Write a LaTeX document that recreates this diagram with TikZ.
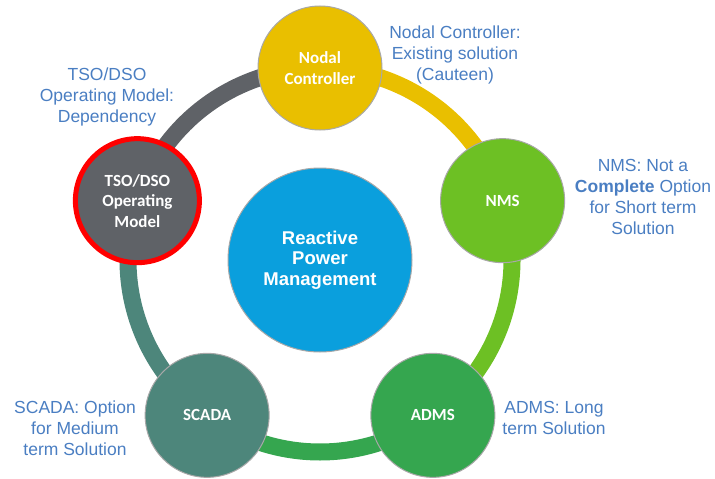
\documentclass[tikz,border=0pt]{standalone}
\usepackage{fontspec}
\usetikzlibrary{calc}
\setmainfont{Liberation Sans}
\newfontfamily\calibfont{Carlito}
\definecolor{cYellow}{HTML}{E9BF00}
\definecolor{cLime}{HTML}{6DC024}
\definecolor{cGreen}{HTML}{35A64F}
\definecolor{cTeal}{HTML}{4D867B}
\definecolor{cGray}{HTML}{5F6267}
\definecolor{cBlue}{HTML}{0A9FDD}
\definecolor{cText}{HTML}{4A7EC2}
\definecolor{cEdge}{HTML}{A8A8A8}
\tikzset{
  ring/.style={line width=17pt},
  stage/.style={circle, minimum size=124pt, inner sep=0pt, draw=cEdge, line width=1pt,
    text=white, align=center, font=\calibfont\bfseries\fontsize{17}{20.5}\selectfont},
  hub/.style={circle, minimum size=184pt, inner sep=0pt, draw=cEdge, line width=1pt, fill=cBlue,
    text=white, align=center, font=\bfseries\fontsize{18.5}{20.5}\selectfont},
  note/.style={text=cText, align=center, font=\fontsize{17.5}{21}\selectfont, inner sep=0pt}
}
\begin{document}
\begin{tikzpicture}[x=1pt,y=1pt]
\useasboundingbox (0,0) rectangle (715,-479);
\coordinate (c) at (320,-260);
% ring arcs (drawn first, behind circles)
\coordinate (pN) at ($(c)+(90:192)$);
\coordinate (pM) at ($(c)+(18:192)$);
\coordinate (pA) at ($(c)+(-54:192)$);
\coordinate (pS) at ($(c)+(-126:192)$);
\coordinate (pT) at ($(c)+(162:192)$);
\draw[ring, cYellow] (pN) arc[start angle=90, end angle=18, radius=192];
\draw[ring, cLime] (pM) arc[start angle=18, end angle=-54, radius=192];
\draw[ring, cGreen] (pA) arc[start angle=-54, end angle=-126, radius=192];
\draw[ring, cTeal] (pS) arc[start angle=-126, end angle=-198, radius=192];
\draw[ring, cGray] (pT) arc[start angle=162, end angle=90, radius=192];
% circles
\node[stage, fill=cYellow] (nodal) at (pN) {Nodal\\Controller};
\node[stage, fill=cLime] (nms) at (pM) {NMS};
\node[stage, fill=cGreen] (adms) at (pA) {ADMS};
\node[stage, fill=cTeal] (scada) at (pS) {SCADA};
\node[stage, fill=cGray, draw=red, line width=5pt] (tso) at (pT) {TSO/DSO\\Operating\\Model};
\node[hub] (rpm) at (c) {Reactive\\Power\\Management};
% notes
\node[note] (nNodal) at (455,-55) {Nodal Controller:\\Existing solution\\(Cauteen)};
\node[note] (nTso) at (107,-97) {TSO/DSO\\Operating Model:\\Dependency};
\node[note] (nNms) at (643,-197) {NMS: Not a\\\textbf{Complete} Option\\for Short term\\Solution};
\node[note] (nScada) at (75,-428) {SCADA: Option\\for Medium\\term Solution};
\node[note] (nAdms) at (554,-418) {ADMS: Long\\term Solution};
\end{tikzpicture}
\end{document}
